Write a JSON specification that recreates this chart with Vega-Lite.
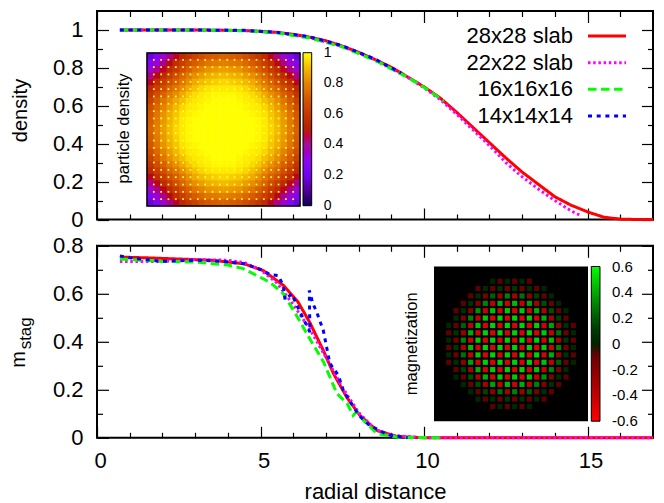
{"$schema":"https://vega.github.io/schema/vega-lite/v6.json","background":"white","padding":{"left":7,"top":9,"right":0,"bottom":0},"spacing":25.8,"bounds":"flush","resolve":{"scale":{"color":"independent"}},
"config":{"font":"Liberation Sans","view":{"stroke":"black","strokeWidth":2},"axis":{"grid":false,"domain":false,"tickColor":"black","tickWidth":1.2,"labelFont":"Liberation Sans","labelFontSize":22,"labelColor":"black","titleFont":"Liberation Sans","titleFontWeight":"normal","titleColor":"black","labelFlush":false,"labelOverlap":false},"legend":{"labelFont":"Liberation Sans","labelColor":"black","gradientStrokeColor":"black","gradientStrokeWidth":1,"padding":0}},
"datasets":{
"keys":[{"s":"28x28 slab","a":0,"b":1},{"s":"22x22 slab","a":0,"b":1},{"s":"16x16x16","a":0,"b":1},{"s":"14x14x14","a":0,"b":1}],
"unit":[{"a":0,"b":1}],
"zero":[{"a":0,"b":0}],
"lines1":[
{"s":"28x28 slab","r":0.7,"v":1},{"s":"28x28 slab","r":1.5,"v":1},{"s":"28x28 slab","r":2.5,"v":1},{"s":"28x28 slab","r":3.5,"v":0.999},{"s":"28x28 slab","r":4.5,"v":0.997},{"s":"28x28 slab","r":5,"v":0.993},{"s":"28x28 slab","r":5.5,"v":0.987},{"s":"28x28 slab","r":6,"v":0.977},{"s":"28x28 slab","r":6.5,"v":0.962},{"s":"28x28 slab","r":7,"v":0.943},{"s":"28x28 slab","r":7.5,"v":0.915},{"s":"28x28 slab","r":8,"v":0.882},{"s":"28x28 slab","r":8.5,"v":0.844},{"s":"28x28 slab","r":9,"v":0.803},{"s":"28x28 slab","r":9.5,"v":0.752},{"s":"28x28 slab","r":10,"v":0.7},{"s":"28x28 slab","r":10.5,"v":0.64},{"s":"28x28 slab","r":11,"v":0.565},{"s":"28x28 slab","r":11.5,"v":0.485},{"s":"28x28 slab","r":12,"v":0.405},{"s":"28x28 slab","r":12.5,"v":0.325},{"s":"28x28 slab","r":13,"v":0.25},{"s":"28x28 slab","r":13.5,"v":0.185},{"s":"28x28 slab","r":14,"v":0.12},{"s":"28x28 slab","r":14.5,"v":0.075},{"s":"28x28 slab","r":15,"v":0.04},{"s":"28x28 slab","r":15.5,"v":0.012},{"s":"28x28 slab","r":16,"v":0.002},{"s":"28x28 slab","r":16.5,"v":0},{"s":"28x28 slab","r":17,"v":0},
{"s":"22x22 slab","r":0.7,"v":1},{"s":"22x22 slab","r":2.5,"v":1},{"s":"22x22 slab","r":4.5,"v":0.997},{"s":"22x22 slab","r":5.5,"v":0.986},{"s":"22x22 slab","r":6.5,"v":0.96},{"s":"22x22 slab","r":7.5,"v":0.913},{"s":"22x22 slab","r":8.5,"v":0.842},{"s":"22x22 slab","r":9.5,"v":0.75},{"s":"22x22 slab","r":10,"v":0.695},{"s":"22x22 slab","r":10.5,"v":0.632},{"s":"22x22 slab","r":11,"v":0.555},{"s":"22x22 slab","r":11.5,"v":0.472},{"s":"22x22 slab","r":12,"v":0.39},{"s":"22x22 slab","r":12.5,"v":0.3},{"s":"22x22 slab","r":13,"v":0.225},{"s":"22x22 slab","r":13.5,"v":0.16},{"s":"22x22 slab","r":14,"v":0.1},{"s":"22x22 slab","r":14.5,"v":0.045},{"s":"22x22 slab","r":14.8,"v":0.02},
{"s":"16x16x16","r":0.7,"v":1},{"s":"16x16x16","r":2.5,"v":1},{"s":"16x16x16","r":4.5,"v":0.996},{"s":"16x16x16","r":5.5,"v":0.985},{"s":"16x16x16","r":6.5,"v":0.958},{"s":"16x16x16","r":7.5,"v":0.911},{"s":"16x16x16","r":8.5,"v":0.84},{"s":"16x16x16","r":9.5,"v":0.75},{"s":"16x16x16","r":10,"v":0.698},{"s":"16x16x16","r":10.6,"v":0.625},
{"s":"14x14x14","r":0.7,"v":1},{"s":"14x14x14","r":2.5,"v":1},{"s":"14x14x14","r":4.5,"v":0.998},{"s":"14x14x14","r":5.5,"v":0.988},{"s":"14x14x14","r":6.5,"v":0.964},{"s":"14x14x14","r":7.5,"v":0.917},{"s":"14x14x14","r":8.5,"v":0.846},{"s":"14x14x14","r":9.3,"v":0.773}],
"lines2":[
{"s":"28x28 slab","r":0.7,"v":0.753},{"s":"28x28 slab","r":1.5,"v":0.75},{"s":"28x28 slab","r":2.5,"v":0.745},{"s":"28x28 slab","r":3.5,"v":0.74},{"s":"28x28 slab","r":4.5,"v":0.725},{"s":"28x28 slab","r":5.08,"v":0.697},{"s":"28x28 slab","r":5.7,"v":0.635},{"s":"28x28 slab","r":6.15,"v":0.565},{"s":"28x28 slab","r":6.5,"v":0.482},{"s":"28x28 slab","r":6.92,"v":0.364},{"s":"28x28 slab","r":7.23,"v":0.268},{"s":"28x28 slab","r":7.64,"v":0.168},{"s":"28x28 slab","r":8.04,"v":0.093},{"s":"28x28 slab","r":8.56,"v":0.03},{"s":"28x28 slab","r":9.17,"v":0.006},{"s":"28x28 slab","r":10,"v":0},{"s":"28x28 slab","r":17,"v":0},
{"s":"22x22 slab","r":0.7,"v":0.735},{"s":"22x22 slab","r":1,"v":0.735},{"s":"22x22 slab","r":2,"v":0.735},{"s":"22x22 slab","r":3,"v":0.742},{"s":"22x22 slab","r":4,"v":0.74},{"s":"22x22 slab","r":4.5,"v":0.73},{"s":"22x22 slab","r":5,"v":0.7},{"s":"22x22 slab","r":5.5,"v":0.645},{"s":"22x22 slab","r":6,"v":0.555},{"s":"22x22 slab","r":6.5,"v":0.455},{"s":"22x22 slab","r":7,"v":0.335},{"s":"22x22 slab","r":7.5,"v":0.21},{"s":"22x22 slab","r":8,"v":0.105},{"s":"22x22 slab","r":8.5,"v":0.035},{"s":"22x22 slab","r":9,"v":0.01},{"s":"22x22 slab","r":10,"v":0},{"s":"22x22 slab","r":17,"v":0},
{"s":"16x16x16","r":0.7,"v":0.745},{"s":"16x16x16","r":2,"v":0.735},{"s":"16x16x16","r":3,"v":0.732},{"s":"16x16x16","r":4,"v":0.72},{"s":"16x16x16","r":4.47,"v":0.705},{"s":"16x16x16","r":5.29,"v":0.648},{"s":"16x16x16","r":5.7,"v":0.6},{"s":"16x16x16","r":6.1,"v":0.51},{"s":"16x16x16","r":6.5,"v":0.414},{"s":"16x16x16","r":6.93,"v":0.315},{"s":"16x16x16","r":7.33,"v":0.185},{"s":"16x16x16","r":7.65,"v":0.143},{"s":"16x16x16","r":7.83,"v":0.093},{"s":"16x16x16","r":7.95,"v":0.11},{"s":"16x16x16","r":8.15,"v":0.072},{"s":"16x16x16","r":8.56,"v":0.018},{"s":"16x16x16","r":9.2,"v":0.002},{"s":"16x16x16","r":10.6,"v":0},
{"s":"14x14x14","r":0.7,"v":0.758},{"s":"14x14x14","r":1,"v":0.75},{"s":"14x14x14","r":1.5,"v":0.742},{"s":"14x14x14","r":2,"v":0.735},{"s":"14x14x14","r":2.5,"v":0.738},{"s":"14x14x14","r":3,"v":0.74},{"s":"14x14x14","r":3.5,"v":0.738},{"s":"14x14x14","r":4,"v":0.733},{"s":"14x14x14","r":4.5,"v":0.725},{"s":"14x14x14","r":5,"v":0.702},{"s":"14x14x14","r":5.3,"v":0.68},{"s":"14x14x14","r":5.55,"v":0.676},{"s":"14x14x14","r":5.7,"v":0.63},{"s":"14x14x14","r":5.75,"v":0.575},{"s":"14x14x14","r":5.95,"v":0.6},{"s":"14x14x14","r":6.26,"v":0.51},{"s":"14x14x14","r":6.51,"v":0.44},{"s":"14x14x14","r":6.49,"v":0.614},{"s":"14x14x14","r":6.6,"v":0.56},{"s":"14x14x14","r":6.72,"v":0.523},{"s":"14x14x14","r":6.92,"v":0.447},{"s":"14x14x14","r":7.02,"v":0.378},{"s":"14x14x14","r":7.12,"v":0.31},{"s":"14x14x14","r":7.38,"v":0.26},{"s":"14x14x14","r":7.53,"v":0.197},{"s":"14x14x14","r":8,"v":0.095},{"s":"14x14x14","r":8.3,"v":0.055},{"s":"14x14x14","r":8.9,"v":0.012},{"s":"14x14x14","r":9.5,"v":0}],
"density":[
{"i":0,"j":0,"d":1},{"i":1,"j":0,"d":1},{"i":2,"j":0,"d":1},{"i":3,"j":0,"d":1},{"i":4,"j":0,"d":1},{"i":5,"j":0,"d":0.99},{"i":6,"j":0,"d":0.97},{"i":7,"j":0,"d":0.94},{"i":8,"j":0,"d":0.9},{"i":9,"j":0,"d":0.85},{"i":10,"j":0,"d":0.79},{"i":11,"j":0,"d":0.72},
{"i":0,"j":1,"d":1},{"i":1,"j":1,"d":1},{"i":2,"j":1,"d":1},{"i":3,"j":1,"d":1},{"i":4,"j":1,"d":1},{"i":5,"j":1,"d":0.99},{"i":6,"j":1,"d":0.97},{"i":7,"j":1,"d":0.93},{"i":8,"j":1,"d":0.89},{"i":9,"j":1,"d":0.84},{"i":10,"j":1,"d":0.78},{"i":11,"j":1,"d":0.71},
{"i":0,"j":2,"d":1},{"i":1,"j":2,"d":1},{"i":2,"j":2,"d":1},{"i":3,"j":2,"d":1},{"i":4,"j":2,"d":0.99},{"i":5,"j":2,"d":0.98},{"i":6,"j":2,"d":0.96},{"i":7,"j":2,"d":0.92},{"i":8,"j":2,"d":0.88},{"i":9,"j":2,"d":0.83},{"i":10,"j":2,"d":0.77},{"i":11,"j":2,"d":0.7},
{"i":0,"j":3,"d":1},{"i":1,"j":3,"d":1},{"i":2,"j":3,"d":1},{"i":3,"j":3,"d":0.99},{"i":4,"j":3,"d":0.98},{"i":5,"j":3,"d":0.97},{"i":6,"j":3,"d":0.94},{"i":7,"j":3,"d":0.9},{"i":8,"j":3,"d":0.85},{"i":9,"j":3,"d":0.8},{"i":10,"j":3,"d":0.74},{"i":11,"j":3,"d":0.67},
{"i":0,"j":4,"d":1},{"i":1,"j":4,"d":1},{"i":2,"j":4,"d":0.99},{"i":3,"j":4,"d":0.98},{"i":4,"j":4,"d":0.97},{"i":5,"j":4,"d":0.95},{"i":6,"j":4,"d":0.91},{"i":7,"j":4,"d":0.87},{"i":8,"j":4,"d":0.82},{"i":9,"j":4,"d":0.77},{"i":10,"j":4,"d":0.71},{"i":11,"j":4,"d":0.63},
{"i":0,"j":5,"d":0.99},{"i":1,"j":5,"d":0.99},{"i":2,"j":5,"d":0.98},{"i":3,"j":5,"d":0.97},{"i":4,"j":5,"d":0.95},{"i":5,"j":5,"d":0.92},{"i":6,"j":5,"d":0.87},{"i":7,"j":5,"d":0.82},{"i":8,"j":5,"d":0.78},{"i":9,"j":5,"d":0.72},{"i":10,"j":5,"d":0.67},{"i":11,"j":5,"d":0.59},
{"i":0,"j":6,"d":0.97},{"i":1,"j":6,"d":0.97},{"i":2,"j":6,"d":0.96},{"i":3,"j":6,"d":0.94},{"i":4,"j":6,"d":0.91},{"i":5,"j":6,"d":0.87},{"i":6,"j":6,"d":0.82},{"i":7,"j":6,"d":0.77},{"i":8,"j":6,"d":0.73},{"i":9,"j":6,"d":0.67},{"i":10,"j":6,"d":0.62},{"i":11,"j":6,"d":0.54},
{"i":0,"j":7,"d":0.94},{"i":1,"j":7,"d":0.93},{"i":2,"j":7,"d":0.92},{"i":3,"j":7,"d":0.9},{"i":4,"j":7,"d":0.87},{"i":5,"j":7,"d":0.82},{"i":6,"j":7,"d":0.77},{"i":7,"j":7,"d":0.72},{"i":8,"j":7,"d":0.67},{"i":9,"j":7,"d":0.61},{"i":10,"j":7,"d":0.56},{"i":11,"j":7,"d":0.48},
{"i":0,"j":8,"d":0.9},{"i":1,"j":8,"d":0.89},{"i":2,"j":8,"d":0.88},{"i":3,"j":8,"d":0.85},{"i":4,"j":8,"d":0.82},{"i":5,"j":8,"d":0.78},{"i":6,"j":8,"d":0.73},{"i":7,"j":8,"d":0.67},{"i":8,"j":8,"d":0.61},{"i":9,"j":8,"d":0.55},{"i":10,"j":8,"d":0.49},{"i":11,"j":8,"d":0.41},
{"i":0,"j":9,"d":0.85},{"i":1,"j":9,"d":0.84},{"i":2,"j":9,"d":0.83},{"i":3,"j":9,"d":0.8},{"i":4,"j":9,"d":0.77},{"i":5,"j":9,"d":0.72},{"i":6,"j":9,"d":0.67},{"i":7,"j":9,"d":0.61},{"i":8,"j":9,"d":0.55},{"i":9,"j":9,"d":0.48},{"i":10,"j":9,"d":0.41},{"i":11,"j":9,"d":0.33},
{"i":0,"j":10,"d":0.79},{"i":1,"j":10,"d":0.78},{"i":2,"j":10,"d":0.77},{"i":3,"j":10,"d":0.74},{"i":4,"j":10,"d":0.71},{"i":5,"j":10,"d":0.67},{"i":6,"j":10,"d":0.62},{"i":7,"j":10,"d":0.56},{"i":8,"j":10,"d":0.49},{"i":9,"j":10,"d":0.41},{"i":10,"j":10,"d":0.33},{"i":11,"j":10,"d":0.26},
{"i":0,"j":11,"d":0.72},{"i":1,"j":11,"d":0.71},{"i":2,"j":11,"d":0.7},{"i":3,"j":11,"d":0.67},{"i":4,"j":11,"d":0.63},{"i":5,"j":11,"d":0.59},{"i":6,"j":11,"d":0.54},{"i":7,"j":11,"d":0.48},{"i":8,"j":11,"d":0.41},{"i":9,"j":11,"d":0.33},{"i":10,"j":11,"d":0.26},{"i":11,"j":11,"d":0.18}],
"dots":[{"i":0,"j":0},{"i":1,"j":0},{"i":2,"j":0},{"i":3,"j":0},{"i":4,"j":0},{"i":5,"j":0},{"i":6,"j":0},{"i":7,"j":0},{"i":8,"j":0},{"i":9,"j":0},{"i":0,"j":1},{"i":1,"j":1},{"i":2,"j":1},{"i":3,"j":1},{"i":4,"j":1},{"i":5,"j":1},{"i":6,"j":1},{"i":7,"j":1},{"i":8,"j":1},{"i":9,"j":1},{"i":0,"j":2},{"i":1,"j":2},{"i":2,"j":2},{"i":3,"j":2},{"i":4,"j":2},{"i":5,"j":2},{"i":6,"j":2},{"i":7,"j":2},{"i":8,"j":2},{"i":9,"j":2},{"i":0,"j":3},{"i":1,"j":3},{"i":2,"j":3},{"i":3,"j":3},{"i":4,"j":3},{"i":5,"j":3},{"i":6,"j":3},{"i":7,"j":3},{"i":8,"j":3},{"i":9,"j":3},{"i":0,"j":4},{"i":1,"j":4},{"i":2,"j":4},{"i":3,"j":4},{"i":4,"j":4},{"i":5,"j":4},{"i":6,"j":4},{"i":7,"j":4},{"i":8,"j":4},{"i":9,"j":4},{"i":0,"j":5},{"i":1,"j":5},{"i":2,"j":5},{"i":3,"j":5},{"i":4,"j":5},{"i":5,"j":5},{"i":6,"j":5},{"i":7,"j":5},{"i":8,"j":5},{"i":9,"j":5},{"i":0,"j":6},{"i":1,"j":6},{"i":2,"j":6},{"i":3,"j":6},{"i":4,"j":6},{"i":5,"j":6},{"i":6,"j":6},{"i":7,"j":6},{"i":8,"j":6},{"i":9,"j":6},{"i":0,"j":7},{"i":1,"j":7},{"i":2,"j":7},{"i":3,"j":7},{"i":4,"j":7},{"i":5,"j":7},{"i":6,"j":7},{"i":7,"j":7},{"i":8,"j":7},{"i":9,"j":7},{"i":0,"j":8},{"i":1,"j":8},{"i":2,"j":8},{"i":3,"j":8},{"i":4,"j":8},{"i":5,"j":8},{"i":6,"j":8},{"i":7,"j":8},{"i":8,"j":8},{"i":9,"j":8},{"i":0,"j":9},{"i":1,"j":9},{"i":2,"j":9},{"i":3,"j":9},{"i":4,"j":9},{"i":5,"j":9},{"i":6,"j":9},{"i":7,"j":9},{"i":8,"j":9},{"i":9,"j":9}],
"bar1":[{"t":0.2,"a":0,"b":1},{"t":0.4,"a":0,"b":1},{"t":0.6,"a":0,"b":1},{"t":0.8,"a":0,"b":1}],
"bar2":[{"t":-0.4,"a":0,"b":1},{"t":-0.2,"a":0,"b":1},{"t":0,"a":0,"b":1},{"t":0.2,"a":0,"b":1},{"t":0.4,"a":0,"b":1}],
"mag":[
{"i":7,"j":1,"m":0.01},{"i":8,"j":1,"m":-0.015},{"i":9,"j":1,"m":0.02},{"i":10,"j":1,"m":-0.02},{"i":11,"j":1,"m":0.015},{"i":12,"j":1,"m":-0.01},
{"i":5,"j":2,"m":-0.012},{"i":6,"j":2,"m":0.03},{"i":7,"j":2,"m":-0.05},{"i":8,"j":2,"m":0.08},{"i":9,"j":2,"m":-0.1},{"i":10,"j":2,"m":0.1},{"i":11,"j":2,"m":-0.08},{"i":12,"j":2,"m":0.05},{"i":13,"j":2,"m":-0.03},{"i":14,"j":2,"m":0.012},
{"i":4,"j":3,"m":-0.02},{"i":5,"j":3,"m":0.05},{"i":6,"j":3,"m":-0.13},{"i":7,"j":3,"m":0.21},{"i":8,"j":3,"m":-0.26},{"i":9,"j":3,"m":0.3},{"i":10,"j":3,"m":-0.3},{"i":11,"j":3,"m":0.26},{"i":12,"j":3,"m":-0.21},{"i":13,"j":3,"m":0.13},{"i":14,"j":3,"m":-0.05},{"i":15,"j":3,"m":0.02},
{"i":3,"j":4,"m":-0.02},{"i":4,"j":4,"m":0.07},{"i":5,"j":4,"m":-0.17},{"i":6,"j":4,"m":0.3},{"i":7,"j":4,"m":-0.38},{"i":8,"j":4,"m":0.41},{"i":9,"j":4,"m":-0.44},{"i":10,"j":4,"m":0.44},{"i":11,"j":4,"m":-0.41},{"i":12,"j":4,"m":0.38},{"i":13,"j":4,"m":-0.3},{"i":14,"j":4,"m":0.17},{"i":15,"j":4,"m":-0.07},{"i":16,"j":4,"m":0.02},
{"i":2,"j":5,"m":-0.012},{"i":3,"j":5,"m":0.05},{"i":4,"j":5,"m":-0.17},{"i":5,"j":5,"m":0.34},{"i":6,"j":5,"m":-0.41},{"i":7,"j":5,"m":0.46},{"i":8,"j":5,"m":-0.48},{"i":9,"j":5,"m":0.48},{"i":10,"j":5,"m":-0.48},{"i":11,"j":5,"m":0.48},{"i":12,"j":5,"m":-0.46},{"i":13,"j":5,"m":0.41},{"i":14,"j":5,"m":-0.34},{"i":15,"j":5,"m":0.17},{"i":16,"j":5,"m":-0.05},{"i":17,"j":5,"m":0.012},
{"i":2,"j":6,"m":0.03},{"i":3,"j":6,"m":-0.13},{"i":4,"j":6,"m":0.3},{"i":5,"j":6,"m":-0.41},{"i":6,"j":6,"m":0.47},{"i":7,"j":6,"m":-0.49},{"i":8,"j":6,"m":0.5},{"i":9,"j":6,"m":-0.5},{"i":10,"j":6,"m":0.5},{"i":11,"j":6,"m":-0.5},{"i":12,"j":6,"m":0.49},{"i":13,"j":6,"m":-0.47},{"i":14,"j":6,"m":0.41},{"i":15,"j":6,"m":-0.3},{"i":16,"j":6,"m":0.13},{"i":17,"j":6,"m":-0.03},
{"i":1,"j":7,"m":0.01},{"i":2,"j":7,"m":-0.05},{"i":3,"j":7,"m":0.21},{"i":4,"j":7,"m":-0.38},{"i":5,"j":7,"m":0.46},{"i":6,"j":7,"m":-0.49},{"i":7,"j":7,"m":0.5},{"i":8,"j":7,"m":-0.5},{"i":9,"j":7,"m":0.5},{"i":10,"j":7,"m":-0.5},{"i":11,"j":7,"m":0.5},{"i":12,"j":7,"m":-0.5},{"i":13,"j":7,"m":0.49},{"i":14,"j":7,"m":-0.46},{"i":15,"j":7,"m":0.38},{"i":16,"j":7,"m":-0.21},{"i":17,"j":7,"m":0.05},{"i":18,"j":7,"m":-0.01},
{"i":1,"j":8,"m":-0.015},{"i":2,"j":8,"m":0.08},{"i":3,"j":8,"m":-0.26},{"i":4,"j":8,"m":0.41},{"i":5,"j":8,"m":-0.48},{"i":6,"j":8,"m":0.5},{"i":7,"j":8,"m":-0.5},{"i":8,"j":8,"m":0.5},{"i":9,"j":8,"m":-0.5},{"i":10,"j":8,"m":0.5},{"i":11,"j":8,"m":-0.5},{"i":12,"j":8,"m":0.5},{"i":13,"j":8,"m":-0.5},{"i":14,"j":8,"m":0.48},{"i":15,"j":8,"m":-0.41},{"i":16,"j":8,"m":0.26},{"i":17,"j":8,"m":-0.08},{"i":18,"j":8,"m":0.015},
{"i":1,"j":9,"m":0.02},{"i":2,"j":9,"m":-0.1},{"i":3,"j":9,"m":0.3},{"i":4,"j":9,"m":-0.44},{"i":5,"j":9,"m":0.48},{"i":6,"j":9,"m":-0.5},{"i":7,"j":9,"m":0.5},{"i":8,"j":9,"m":-0.5},{"i":9,"j":9,"m":0.5},{"i":10,"j":9,"m":-0.5},{"i":11,"j":9,"m":0.5},{"i":12,"j":9,"m":-0.5},{"i":13,"j":9,"m":0.5},{"i":14,"j":9,"m":-0.48},{"i":15,"j":9,"m":0.44},{"i":16,"j":9,"m":-0.3},{"i":17,"j":9,"m":0.1},{"i":18,"j":9,"m":-0.02},
{"i":1,"j":10,"m":-0.02},{"i":2,"j":10,"m":0.1},{"i":3,"j":10,"m":-0.3},{"i":4,"j":10,"m":0.44},{"i":5,"j":10,"m":-0.48},{"i":6,"j":10,"m":0.5},{"i":7,"j":10,"m":-0.5},{"i":8,"j":10,"m":0.5},{"i":9,"j":10,"m":-0.5},{"i":10,"j":10,"m":0.5},{"i":11,"j":10,"m":-0.5},{"i":12,"j":10,"m":0.5},{"i":13,"j":10,"m":-0.5},{"i":14,"j":10,"m":0.48},{"i":15,"j":10,"m":-0.44},{"i":16,"j":10,"m":0.3},{"i":17,"j":10,"m":-0.1},{"i":18,"j":10,"m":0.02},
{"i":1,"j":11,"m":0.015},{"i":2,"j":11,"m":-0.08},{"i":3,"j":11,"m":0.26},{"i":4,"j":11,"m":-0.41},{"i":5,"j":11,"m":0.48},{"i":6,"j":11,"m":-0.5},{"i":7,"j":11,"m":0.5},{"i":8,"j":11,"m":-0.5},{"i":9,"j":11,"m":0.5},{"i":10,"j":11,"m":-0.5},{"i":11,"j":11,"m":0.5},{"i":12,"j":11,"m":-0.5},{"i":13,"j":11,"m":0.5},{"i":14,"j":11,"m":-0.48},{"i":15,"j":11,"m":0.41},{"i":16,"j":11,"m":-0.26},{"i":17,"j":11,"m":0.08},{"i":18,"j":11,"m":-0.015},
{"i":1,"j":12,"m":-0.01},{"i":2,"j":12,"m":0.05},{"i":3,"j":12,"m":-0.21},{"i":4,"j":12,"m":0.38},{"i":5,"j":12,"m":-0.46},{"i":6,"j":12,"m":0.49},{"i":7,"j":12,"m":-0.5},{"i":8,"j":12,"m":0.5},{"i":9,"j":12,"m":-0.5},{"i":10,"j":12,"m":0.5},{"i":11,"j":12,"m":-0.5},{"i":12,"j":12,"m":0.5},{"i":13,"j":12,"m":-0.49},{"i":14,"j":12,"m":0.46},{"i":15,"j":12,"m":-0.38},{"i":16,"j":12,"m":0.21},{"i":17,"j":12,"m":-0.05},{"i":18,"j":12,"m":0.01},
{"i":2,"j":13,"m":-0.03},{"i":3,"j":13,"m":0.13},{"i":4,"j":13,"m":-0.3},{"i":5,"j":13,"m":0.41},{"i":6,"j":13,"m":-0.47},{"i":7,"j":13,"m":0.49},{"i":8,"j":13,"m":-0.5},{"i":9,"j":13,"m":0.5},{"i":10,"j":13,"m":-0.5},{"i":11,"j":13,"m":0.5},{"i":12,"j":13,"m":-0.49},{"i":13,"j":13,"m":0.47},{"i":14,"j":13,"m":-0.41},{"i":15,"j":13,"m":0.3},{"i":16,"j":13,"m":-0.13},{"i":17,"j":13,"m":0.03},
{"i":2,"j":14,"m":0.012},{"i":3,"j":14,"m":-0.05},{"i":4,"j":14,"m":0.17},{"i":5,"j":14,"m":-0.34},{"i":6,"j":14,"m":0.41},{"i":7,"j":14,"m":-0.46},{"i":8,"j":14,"m":0.48},{"i":9,"j":14,"m":-0.48},{"i":10,"j":14,"m":0.48},{"i":11,"j":14,"m":-0.48},{"i":12,"j":14,"m":0.46},{"i":13,"j":14,"m":-0.41},{"i":14,"j":14,"m":0.34},{"i":15,"j":14,"m":-0.17},{"i":16,"j":14,"m":0.05},{"i":17,"j":14,"m":-0.012},
{"i":3,"j":15,"m":0.02},{"i":4,"j":15,"m":-0.07},{"i":5,"j":15,"m":0.17},{"i":6,"j":15,"m":-0.3},{"i":7,"j":15,"m":0.38},{"i":8,"j":15,"m":-0.41},{"i":9,"j":15,"m":0.44},{"i":10,"j":15,"m":-0.44},{"i":11,"j":15,"m":0.41},{"i":12,"j":15,"m":-0.38},{"i":13,"j":15,"m":0.3},{"i":14,"j":15,"m":-0.17},{"i":15,"j":15,"m":0.07},{"i":16,"j":15,"m":-0.02},
{"i":4,"j":16,"m":0.02},{"i":5,"j":16,"m":-0.05},{"i":6,"j":16,"m":0.13},{"i":7,"j":16,"m":-0.21},{"i":8,"j":16,"m":0.26},{"i":9,"j":16,"m":-0.3},{"i":10,"j":16,"m":0.3},{"i":11,"j":16,"m":-0.26},{"i":12,"j":16,"m":0.21},{"i":13,"j":16,"m":-0.13},{"i":14,"j":16,"m":0.05},{"i":15,"j":16,"m":-0.02},
{"i":5,"j":17,"m":0.012},{"i":6,"j":17,"m":-0.03},{"i":7,"j":17,"m":0.05},{"i":8,"j":17,"m":-0.08},{"i":9,"j":17,"m":0.1},{"i":10,"j":17,"m":-0.1},{"i":11,"j":17,"m":0.08},{"i":12,"j":17,"m":-0.05},{"i":13,"j":17,"m":0.03},{"i":14,"j":17,"m":-0.012},
{"i":7,"j":18,"m":-0.01},{"i":8,"j":18,"m":0.015},{"i":9,"j":18,"m":-0.02},{"i":10,"j":18,"m":0.02},{"i":11,"j":18,"m":-0.015},{"i":12,"j":18,"m":0.01}]
},
"vconcat":[
{"width":556,"height":208.5,"resolve":{"scale":{"x":"independent","y":"independent"}},"layer":[
{"data":{"name":"zero"},"mark":{"type":"point","opacity":0},"encoding":{"x":{"field":"a","type":"quantitative","scale":{"domain":[0,17]},"axis":{"orient":"bottom","values":[0,5,10,15],"labels":false,"tickSize":-11.5,"title":null}},"y":{"field":"b","type":"quantitative","scale":{"domain":[0,1.1]},"axis":{"orient":"left","values":[0,0.2,0.4,0.6,0.8,1],"labels":false,"tickSize":-11.5,"title":null}}}},
{"data":{"name":"zero"},"mark":{"type":"point","opacity":0},"encoding":{"x":{"field":"a","type":"quantitative","scale":{"domain":[0,17]},"axis":{"orient":"bottom","values":[1,2,3,4,6,7,8,9,11,12,13,14,16],"labels":false,"tickSize":-5.5,"title":null}},"y":{"field":"b","type":"quantitative","scale":{"domain":[0,1.1]},"axis":{"orient":"left","values":[0.1,0.3,0.5,0.7,0.9],"labels":false,"tickSize":-5.5,"title":null}}}},
{"data":{"name":"zero"},"mark":{"type":"point","opacity":0},"encoding":{"x":{"field":"a","type":"quantitative","scale":{"domain":[0,17]},"axis":{"orient":"top","values":[0,5,10,15],"labels":false,"tickSize":-11.5,"title":null}},"y":{"field":"b","type":"quantitative","scale":{"domain":[0,1.1]},"axis":{"orient":"right","values":[0,0.2,0.4,0.6,0.8,1],"labels":false,"tickSize":-11.5,"title":null}}}},
{"data":{"name":"zero"},"mark":{"type":"point","opacity":0},"encoding":{"x":{"field":"a","type":"quantitative","scale":{"domain":[0,17]},"axis":{"orient":"top","values":[1,2,3,4,6,7,8,9,11,12,13,14,16],"labels":false,"tickSize":-5.5,"title":null}},"y":{"field":"b","type":"quantitative","scale":{"domain":[0,1.1]},"axis":{"orient":"right","values":[0.1,0.3,0.5,0.7,0.9],"labels":false,"tickSize":-5.5,"title":null}}}},
{"data":{"name":"density"},"mark":{"type":"rect","width":7,"height":7},"encoding":{"x":{"field":"i","type":"ordinal","scale":{"range":[126.5,203]},"axis":null},"y":{"field":"j","type":"ordinal","scale":{"range":[118.5,195]},"axis":null},"color":{"field":"d","type":"quantitative","scale":{"domain":[-0.0001,0.1,0.2,0.3,0.4,0.5,0.6,0.7,0.8,0.9,1.0001],"range":["#000000","#500096","#7202f2","#8c07f2","#a11096","#b42000","#c63700","#d55700","#e48300","#f2ba00","#ffff00"]},"legend":{"orient":"none","legendX":206,"legendY":41.7,"gradientLength":153,"gradientThickness":8.7,"values":[0,0.2,0.4,0.6,0.8,1],"labelExpr":"''+datum.value","labelFontSize":14,"labelOffset":12,"labelBaseline":"middle","title":null}}}},
{"data":{"name":"density"},"mark":{"type":"rect","width":7,"height":7},"encoding":{"x":{"field":"i","type":"ordinal","scale":{"range":[126.5,50]},"axis":null},"y":{"field":"j","type":"ordinal","scale":{"range":[118.5,195]},"axis":null},"color":{"field":"d","type":"quantitative"}}},
{"data":{"name":"density"},"mark":{"type":"rect","width":7,"height":7},"encoding":{"x":{"field":"i","type":"ordinal","scale":{"range":[126.5,203]},"axis":null},"y":{"field":"j","type":"ordinal","scale":{"range":[118.5,42]},"axis":null},"color":{"field":"d","type":"quantitative"}}},
{"data":{"name":"density"},"mark":{"type":"rect","width":7,"height":7},"encoding":{"x":{"field":"i","type":"ordinal","scale":{"range":[126.5,50]},"axis":null},"y":{"field":"j","type":"ordinal","scale":{"range":[118.5,42]},"axis":null},"color":{"field":"d","type":"quantitative"}}},
{"data":{"name":"dots"},"mark":{"type":"square","size":3,"fill":"#ffff33","opacity":1},"encoding":{"x":{"field":"i","type":"ordinal","scale":{"type":"point","padding":0,"range":[130.2,196.2]},"axis":null},"y":{"field":"j","type":"ordinal","scale":{"type":"point","padding":0,"range":[122.2,188.2]},"axis":null}}},
{"data":{"name":"dots"},"mark":{"type":"square","size":3,"fill":"#ffff33","opacity":1},"encoding":{"x":{"field":"i","type":"ordinal","scale":{"type":"point","padding":0,"range":[122.8,56.8]},"axis":null},"y":{"field":"j","type":"ordinal","scale":{"type":"point","padding":0,"range":[122.2,188.2]},"axis":null}}},
{"data":{"name":"dots"},"mark":{"type":"square","size":3,"fill":"#ffff33","opacity":1},"encoding":{"x":{"field":"i","type":"ordinal","scale":{"type":"point","padding":0,"range":[130.2,196.2]},"axis":null},"y":{"field":"j","type":"ordinal","scale":{"type":"point","padding":0,"range":[114.8,48.8]},"axis":null}}},
{"data":{"name":"dots"},"mark":{"type":"square","size":3,"fill":"#ffff33","opacity":1},"encoding":{"x":{"field":"i","type":"ordinal","scale":{"type":"point","padding":0,"range":[122.8,56.8]},"axis":null},"y":{"field":"j","type":"ordinal","scale":{"type":"point","padding":0,"range":[114.8,48.8]},"axis":null}}},
{"data":{"name":"unit"},"mark":{"type":"rect","fill":null,"stroke":"black","strokeWidth":1.5},"encoding":{"x":{"field":"a","type":"quantitative","scale":{"domain":[0,1],"range":[50,203]},"axis":null},"x2":{"field":"b"},"y":{"field":"a","type":"quantitative","scale":{"domain":[0,1],"range":[195,42]},"axis":{"orient":"left","title":"particle density","ticks":false,"labels":false,"titleX":26,"titleY":117,"titleAngle":270,"titleFontSize":16.5,"titleAlign":"center","titleBaseline":"middle"}},"y2":{"field":"b"}}},
{"data":{"name":"bar1"},"mark":{"type":"rule","stroke":"black","strokeWidth":1},"encoding":{"x":{"field":"a","type":"quantitative","scale":{"domain":[0,1],"range":[206,214.7]},"axis":null},"x2":{"field":"b"},"y":{"field":"t","type":"quantitative","scale":{"domain":[0,1],"range":[195,42]},"axis":null}}},
{"data":{"name":"lines1"},"mark":{"type":"line","strokeWidth":3},"encoding":{"x":{"field":"r","type":"quantitative","scale":{"domain":[0,17]},"axis":{"orient":"bottom","values":[0,5,10,15],"labels":false,"ticks":false,"title":null}},"y":{"field":"v","type":"quantitative","scale":{"domain":[0,1.1]},"axis":{"orient":"left","values":[0,0.2,0.4,0.6,0.8,1],"format":"~g","ticks":false,"labelPadding":14,"title":"density","titleX":-77,"titleY":99,"titleAngle":270,"titleFontSize":20,"titleAlign":"center","titleBaseline":"middle"}},"stroke":{"field":"s","type":"nominal","scale":{"domain":["28x28 slab","22x22 slab","16x16x16","14x14x14"],"range":["#ff0000","#ff00ff","#00ff00","#0000ff"]},"legend":null},"strokeDash":{"field":"s","type":"nominal","scale":{"domain":["28x28 slab","22x22 slab","16x16x16","14x14x14"],"range":[[1,0],[2.5,2.7],[8.5,4.5],[4,4.7]]},"legend":null}}},
{"data":{"name":"keys"},"mark":{"type":"rule","strokeWidth":3},"encoding":{"x":{"field":"a","type":"quantitative","scale":{"domain":[0,1],"range":[491,529]},"axis":null},"x2":{"field":"b"},"y":{"field":"s","type":"ordinal","scale":{"type":"point","padding":0,"domain":["28x28 slab","22x22 slab","16x16x16","14x14x14"],"range":[25,105]},"axis":null},"stroke":{"field":"s","type":"nominal","legend":null},"strokeDash":{"field":"s","type":"nominal","legend":null}}},
{"data":{"name":"keys"},"mark":{"type":"text","align":"right","baseline":"middle","fontSize":22,"fill":"black"},"encoding":{"x":{"field":"a","type":"quantitative","scale":{"domain":[0,1],"range":[476,500]},"axis":null},"y":{"field":"s","type":"ordinal","scale":{"type":"point","padding":0,"domain":["28x28 slab","22x22 slab","16x16x16","14x14x14"],"range":[25,105]},"axis":null},"text":{"field":"s"}}}
]},
{"width":556,"height":192,"resolve":{"scale":{"x":"independent","y":"independent"}},"layer":[
{"data":{"name":"zero"},"mark":{"type":"point","opacity":0},"encoding":{"x":{"field":"a","type":"quantitative","scale":{"domain":[0,17]},"axis":{"orient":"bottom","values":[0,5,10,15],"labels":false,"tickSize":-11.5,"title":null}},"y":{"field":"b","type":"quantitative","scale":{"domain":[0,0.8]},"axis":{"orient":"left","values":[0,0.2,0.4,0.6,0.8],"labels":false,"tickSize":-11.5,"title":"stag","titleX":-72,"titleY":87,"titleAngle":270,"titleFontSize":17,"titleAlign":"center","titleBaseline":"middle"}}}},
{"data":{"name":"zero"},"mark":{"type":"point","opacity":0},"encoding":{"x":{"field":"a","type":"quantitative","scale":{"domain":[0,17]},"axis":{"orient":"bottom","values":[1,2,3,4,6,7,8,9,11,12,13,14,16],"labels":false,"tickSize":-5.5,"title":null}},"y":{"field":"b","type":"quantitative","scale":{"domain":[0,0.8]},"axis":{"orient":"left","values":[0.1,0.3,0.5,0.7],"labels":false,"tickSize":-5.5,"title":null}}}},
{"data":{"name":"zero"},"mark":{"type":"point","opacity":0},"encoding":{"x":{"field":"a","type":"quantitative","scale":{"domain":[0,17]},"axis":{"orient":"top","values":[0,5,10,15],"labels":false,"tickSize":-11.5,"title":null}},"y":{"field":"b","type":"quantitative","scale":{"domain":[0,0.8]},"axis":{"orient":"right","values":[0,0.2,0.4,0.6,0.8],"labels":false,"tickSize":-11.5,"title":null}}}},
{"data":{"name":"zero"},"mark":{"type":"point","opacity":0},"encoding":{"x":{"field":"a","type":"quantitative","scale":{"domain":[0,17]},"axis":{"orient":"top","values":[1,2,3,4,6,7,8,9,11,12,13,14,16],"labels":false,"tickSize":-5.5,"title":null}},"y":{"field":"b","type":"quantitative","scale":{"domain":[0,0.8]},"axis":{"orient":"right","values":[0.1,0.3,0.5,0.7],"labels":false,"tickSize":-5.5,"title":null}}}},
{"data":{"name":"unit"},"mark":{"type":"rect","fill":"black"},"encoding":{"x":{"field":"a","type":"quantitative","scale":{"domain":[0,1],"range":[337,491]},"axis":null},"x2":{"field":"b"},"y":{"field":"a","type":"quantitative","scale":{"domain":[0,1],"range":[175.4,20.7]},"axis":{"orient":"left","title":"magnetization","ticks":false,"labels":false,"titleX":314,"titleY":97.5,"titleAngle":270,"titleFontSize":16.5,"titleAlign":"center","titleBaseline":"middle"}},"y2":{"field":"b"}}},
{"data":{"name":"mag"},"mark":{"type":"rect"},"encoding":{"x":{"field":"i","type":"ordinal","scale":{"domain":[0,1,2,3,4,5,6,7,8,9,10,11,12,13,14,15,16,17,18,19],"range":[337,491],"paddingInner":0.3,"paddingOuter":0.65},"axis":null},"y":{"field":"j","type":"ordinal","scale":{"domain":[0,1,2,3,4,5,6,7,8,9,10,11,12,13,14,15,16,17,18,19],"range":[20.7,175.4],"paddingInner":0.3,"paddingOuter":0.65},"axis":null},"color":{"field":"m","type":"quantitative","scale":{"domain":[-0.6001,0,0.6001],"range":["#ff0000","#000000","#00ff00"]},"legend":{"orient":"none","legendX":494.3,"legendY":20.7,"gradientLength":154.7,"gradientThickness":8.7,"values":[-0.6,-0.4,-0.2,0,0.2,0.4,0.6],"labelExpr":"''+datum.value","labelFontSize":15,"labelOffset":12,"labelAlign":"right","labelBaseline":"middle","title":null}}}},
{"data":{"name":"bar2"},"mark":{"type":"rule","stroke":"black","strokeWidth":1},"encoding":{"x":{"field":"a","type":"quantitative","scale":{"domain":[0,1],"range":[494.3,503]},"axis":null},"x2":{"field":"b"},"y":{"field":"t","type":"quantitative","scale":{"domain":[-0.6,0.6],"range":[175.4,20.7]},"axis":null}}},
{"data":{"name":"lines2"},"mark":{"type":"line","strokeWidth":3},"encoding":{"order":{"value":null},"x":{"field":"r","type":"quantitative","scale":{"domain":[0,17]},"axis":{"orient":"bottom","values":[0,5,10,15],"format":"~g","ticks":false,"labelPadding":13,"labelOffset":3,"title":"radial distance","titleX":278,"titleY":54,"titleFontSize":22,"titleAlign":"center","titleBaseline":"middle"}},"y":{"field":"v","type":"quantitative","scale":{"domain":[0,0.8]},"axis":{"orient":"left","values":[0,0.2,0.4,0.6,0.8],"format":"~g","ticks":false,"labelPadding":14,"title":"m","titleX":-79,"titleY":113,"titleAngle":270,"titleFontSize":20,"titleAlign":"center","titleBaseline":"middle"}},"stroke":{"field":"s","type":"nominal","scale":{"domain":["28x28 slab","22x22 slab","16x16x16","14x14x14"],"range":["#ff0000","#ff00ff","#00ff00","#0000ff"]},"legend":null},"strokeDash":{"field":"s","type":"nominal","scale":{"domain":["28x28 slab","22x22 slab","16x16x16","14x14x14"],"range":[[1,0],[2.5,2.7],[8.5,4.5],[4,4.7]]},"legend":null}}}
]}
]}
